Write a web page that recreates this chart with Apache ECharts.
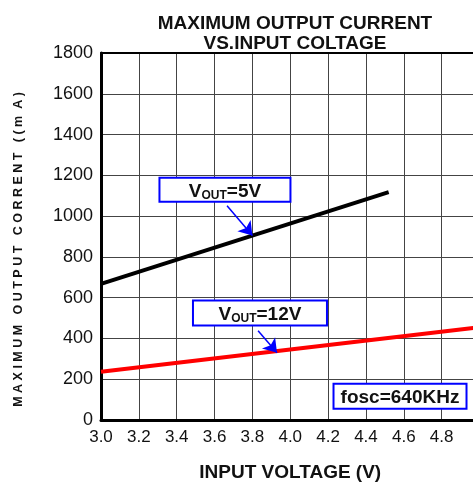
<!DOCTYPE html>
<html><head><meta charset="utf-8">
<script src="https://cdn.jsdelivr.net/npm/echarts@6/dist/echarts.min.js"></script>
<style>html,body{margin:0;padding:0;background:#fff;overflow:hidden}#c{width:490px;height:487px}</style>
</head><body><div id="c"></div>
<script>
// Data
const vin5 = [3.0, 4.52];
const iout5 = [668, 1118];
const vin12 = [3.0, 5.0];
const iout12 = [237, 455];
const xTicks = ['3.0','3.2','3.4','3.6','3.8','4.0','4.2','4.4','4.6','4.8','5.0'];
// annotations: [x, y] in data units
const label5Pos = [3.655, 1129];
const label12Pos = [3.84, 525];
const fscPos = [4.58, 117];
const arrow5 = [[3.666, 1051], [3.8, 905]];
const arrow12 = [[3.83, 438], [3.93, 330]];

const FONT = '"Liberation Sans", Arial, sans-serif';
const chart = echarts.init(document.getElementById('c'));
const option = {
  backgroundColor: '#fff',
  animation: false,
  title: {
    text: 'MAXIMUM OUTPUT CURRENT\nVS.INPUT COLTAGE',
    left: 290, top: 9, textAlign: 'center',
    textStyle: {fontFamily: FONT, fontSize: 19, fontWeight: 'bold', color: '#111', lineHeight: 20}
  },
  grid: {left: 101, right: 10.5, top: 53, bottom: 62},
  xAxis: [{
    type: 'value', min: 3.0, max: 5.0, interval: 0.2,
    name: 'INPUT VOLTAGE (V)', nameLocation: 'middle', nameGap: 43,
    nameTextStyle: {fontFamily: FONT, fontSize: 19, fontWeight: 'bold', color: '#111'},
    axisLine: {lineStyle: {color: '#000', width: 3}},
    axisTick: {show: false},
    axisLabel: {fontFamily: FONT, fontSize: 17, color: '#111', margin: 9, showMaxLabel: false,
      formatter: v => xTicks[Math.round((v - 3.0) / 0.2)]},
    splitLine: {show: true, lineStyle: {color: '#444', width: 1}}
  }, {
    type: 'value', position: 'top', min: 3.0, max: 5.0, interval: 0.2,
    axisLine: {show: true, lineStyle: {color: '#000', width: 2}},
    axisTick: {show: false}, axisLabel: {show: false}, splitLine: {show: false}
  }],
  yAxis: {
    type: 'value', min: 0, max: 1800, interval: 200,
    name: 'M A X I M U M   O U T P U T   C O R R E N T   ( ( m  A )',
    nameLocation: 'middle', nameGap: 76, nameRotate: 90,
    nameTextStyle: {fontFamily: FONT, fontSize: 12.5, fontWeight: 'bold', color: '#111', padding: [0, 26, 0, 0]},
    axisLine: {show: true, lineStyle: {color: '#000', width: 3}},
    axisTick: {show: false},
    axisLabel: {fontFamily: FONT, fontSize: 18, color: '#111', margin: 8, formatter: v => String(v)},
    splitLine: {show: true, lineStyle: {color: '#444', width: 1}}
  },
  series: [
    {type: 'line', data: vin5.map((v, i) => [v, iout5[i]]), symbol: 'none',
     lineStyle: {color: '#000', width: 4}},
    {type: 'line', data: vin12.map((v, i) => [v, iout12[i]]), symbol: 'none',
     lineStyle: {color: '#ff0000', width: 4}},
    {type: 'line', data: [], symbol: 'none',
     markLine: {silent: true, symbol: ['none', 'arrow'], symbolSize: 13,
       lineStyle: {color: '#0000ff', width: 1.5, type: 'solid'}, label: {show: false},
       data: [
         [{coord: arrow5[0]}, {coord: arrow5[1]}],
         [{coord: arrow12[0]}, {coord: arrow12[1]}]
       ]}}
  ]
};
chart.setOption(option);

function box(pos, rich, w, h) {
  const p = chart.convertToPixel({xAxisIndex: 0, yAxisIndex: 0}, pos);
  return [{
    type: 'rect', shape: {x: p[0] - w/2, y: p[1] - h/2, width: w, height: h},
    style: {fill: '#fff', stroke: '#0000ff', lineWidth: 2}, z: 100
  }, {
    type: 'text', x: p[0], y: p[1] + 2, z: 101,
    style: Object.assign({align: 'center', verticalAlign: 'middle'}, rich)
  }];
}
const richStyles = {
  a: {fontFamily: FONT, fontSize: 19, fontWeight: 'bold', fill: '#111', color: '#111', verticalAlign: 'top', lineHeight: 19},
  b: {fontFamily: FONT, fontSize: 12, fontWeight: 'bold', fill: '#111', color: '#111', verticalAlign: 'bottom', lineHeight: 12, padding: [10, 0, 0, 0]}
};
const g = [].concat(
  box(label5Pos, {text: '{a|V}{b|OUT}{a|=5V}', rich: richStyles}, 131, 24),
  box(label12Pos, {text: '{a|V}{b|OUT}{a|=12V}', rich: richStyles}, 134, 25),
  box(fscPos, {text: 'fosc=640KHz', fontFamily: FONT, fontSize: 19, fontWeight: 'bold', fill: '#111'}, 133, 25)
);
chart.setOption({graphic: g});
</script></body></html>
